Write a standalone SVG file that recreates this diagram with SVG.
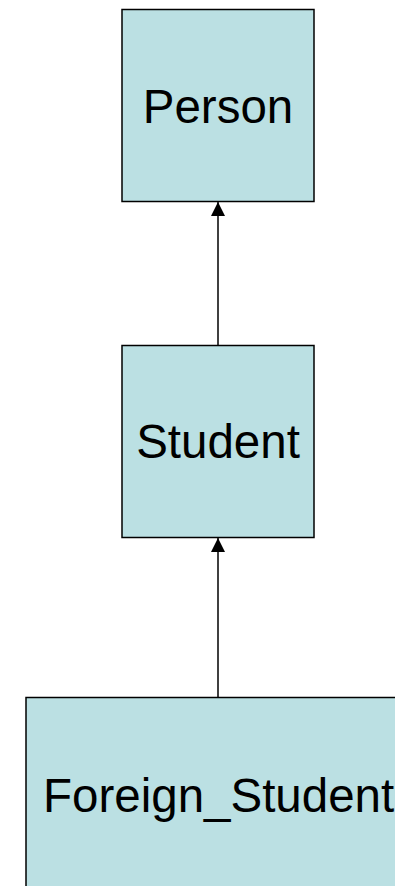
<svg xmlns="http://www.w3.org/2000/svg" width="395" height="886" viewBox="0 0 395 886">
<defs>
<style>
.box{fill:#BBE0E3;stroke:#000;stroke-width:1.5}
.lbl{font-family:"Liberation Sans",Arial,sans-serif;font-size:47.5px;fill:#000}
.conn{stroke:#000;stroke-width:1.5;fill:none}
</style>
<marker id="arr" markerUnits="userSpaceOnUse" markerWidth="14" markerHeight="16" refX="14" refY="7" orient="auto">
<path d="M0,0 L14,7 L0,14 Z" fill="#000"/>
</marker>
</defs>
<rect width="395" height="886" fill="#fff"/>
<g id="connectors">
<line class="conn" x1="218" y1="345" x2="218" y2="202" marker-end="url(#arr)"/>
<line class="conn" x1="218" y1="697" x2="218" y2="538" marker-end="url(#arr)"/>
</g>
<g id="person">
<rect class="box" x="122" y="9.5" width="192" height="192"/>
<text class="lbl" x="218" y="123" text-anchor="middle">Person</text>
</g>
<g id="student">
<rect class="box" x="122" y="345.5" width="192" height="192"/>
<text class="lbl" x="218" y="458" text-anchor="middle">Student</text>
</g>
<g id="foreign_student">
<rect class="box" x="26" y="697.5" width="380" height="200"/>
<text class="lbl" x="43" y="812">Foreign_Student</text>
</g>
</svg>
